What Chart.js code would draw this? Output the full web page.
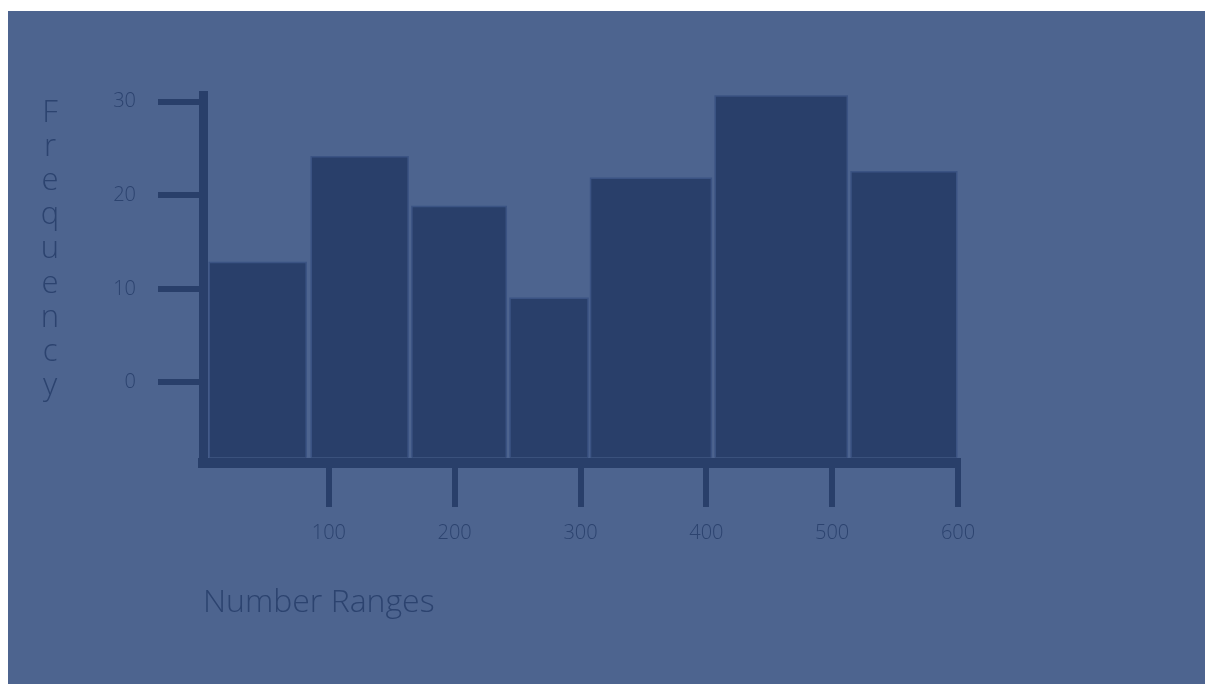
<!DOCTYPE html>
<html>
<head>
<meta charset="utf-8">
<script src="https://cdn.jsdelivr.net/npm/chart.js@4/dist/chart.umd.min.js"></script>
<style>
  html, body { margin: 0; padding: 0; background: #ffffff; }
  #panel { position: absolute; left: 8px; top: 11px; width: 1197px; height: 673px; background: #4d648f; }
  #hist { position: absolute; left: 0; top: 0; }
</style>
</head>
<body>
<div id="panel"></div>
<canvas id="hist" width="1205" height="684"></canvas>
<script>
// histogram bins (number ranges) and their frequencies
var binStart = [5, 86, 166, 244, 308, 407, 515];
var binEnd   = [82, 163, 241, 306, 404, 512, 599];
var freq     = [12.8, 24.1, 18.8, 9.0, 21.8, 30.6, 22.5];
var barBase  = -8;

var yTicks = [0, 10, 20, 30];
var xTicks = [100, 200, 300, 400, 500, 600];
var yTitle = "Frequency";
var xTitle = "Number Ranges";

var dark = "#293f6a";
var textCol = "#2c436f";

var datasets = [];
for (var i = 0; i < freq.length; i++) {
  datasets.push({
    label: binStart[i] + "-" + binEnd[i],
    data: [
      {x: binStart[i], y: barBase},
      {x: binStart[i], y: freq[i]},
      {x: binEnd[i], y: freq[i]},
      {x: binEnd[i], y: barBase}
    ],
    fill: {value: barBase},
    backgroundColor: dark,
    borderColor: "#3b5383",
    borderWidth: 1.5,
    pointRadius: 0,
    tension: 0,
    clip: false
  });
}

// stacked upright letters for the y title
var stackedTitle = {
  id: "stackedTitle",
  afterDraw: function(chart) {
    var ctx = chart.ctx;
    ctx.save();
    ctx.font = "300 31px 'Open Sans'";
    ctx.fillStyle = textCol;
    ctx.textAlign = "center";
    ctx.textBaseline = "alphabetic";
    for (var k = 0; k < yTitle.length; k++) {
      ctx.fillText(yTitle[k], 50, 122 + k * 34.1);
    }
    ctx.restore();
  }
};

var options = {
  responsive: false,
  animation: false,
  layout: { padding: { top: 95, right: 247, left: 0, bottom: 0 } },
  plugins: { legend: { display: false }, tooltip: { enabled: false } },
  scales: {
    x: {
      type: "linear",
      min: 0,
      max: 600,
      afterBuildTicks: function(scale) {
        scale.ticks = xTicks.map(function(v) { return {value: v}; });
      },
      afterFit: function(scale) { scale.height = 221; },
      grid: { drawOnChartArea: false, drawTicks: true, tickLength: 44, tickWidth: 6, lineWidth: 6, color: dark },
      border: { display: true, color: dark, width: 10 },
      ticks: { padding: 14, color: textCol, font: { family: "'Open Sans'", size: 20, weight: 300 }, maxRotation: 0 },
      title: {
        display: true,
        text: xTitle,
        align: "start",
        color: textCol,
        font: { family: "'Open Sans'", size: 32, weight: 300 },
        padding: { top: 0, bottom: 62 }
      }
    },
    y: {
      min: -8.6,
      max: 30.7,
      afterBuildTicks: function(scale) {
        scale.ticks = yTicks.map(function(v) { return {value: v}; });
      },
      afterFit: function(scale) { scale.width = 203; },
      grid: { drawOnChartArea: false, drawTicks: true, tickLength: 45, tickWidth: 6, lineWidth: 6, color: dark },
      border: { display: true, color: dark, width: 9 },
      ticks: { padding: 22, color: textCol, font: { family: "'Open Sans'", size: 20, weight: 300 } }
    }
  }
};

var chart = new Chart(document.getElementById("hist"), {
  type: "line",
  data: { datasets: datasets },
  options: options,
  plugins: [stackedTitle]
});
</script>
</body>
</html>
